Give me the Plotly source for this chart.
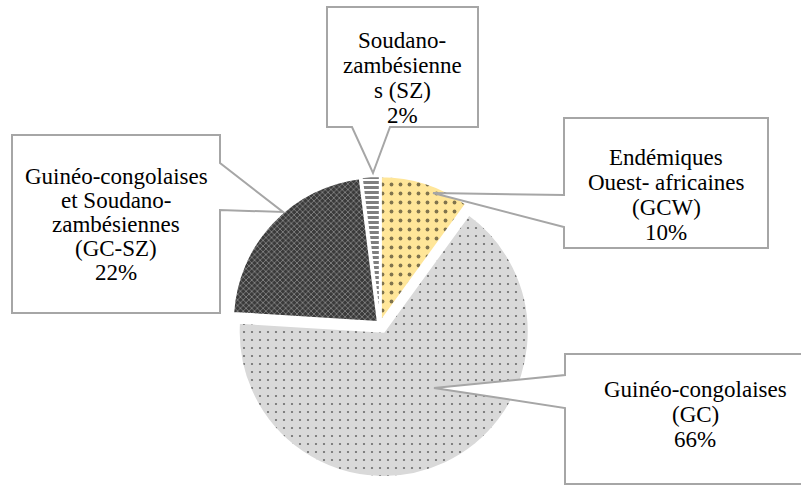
import plotly.graph_objects as go

# Phytogeographic spectrum of the flora
categories = ["GCW", "GC", "GC-SZ", "SZ"]
shares = [10, 66, 22, 2]
fill_colors = ["#FFE699", "#D9D9D9", "#3A3A3A", "#FFFFFF"]
pattern_shapes = [".", ".", "x", "-"]
pattern_fg = ["#000000", "#000000", "#FFFFFF", "#000000"]
pattern_sizes = [9, 8, 4, 5]
pattern_solidity = [0.14, 0.06, 0.3, 0.6]
pulls = [0.02, 0.06, 0.02, 0.02]

callout_lines = {
    "SZ": ["Soudano-", "zambésienne", "s (SZ)", "2%"],
    "GC-SZ": ["Guinéo-congolaises", "et Soudano-", "zambésiennes", "(GC-SZ)", "22%"],
    "GCW": ["Endémiques", "Ouest- africaines", "(GCW)", "10%"],
    "GC": ["Guinéo-congolaises", "(GC)", "66%"],
}

W, H = 801, 485
FONT = "Liberation Serif"
BORDER = "#A6A6A6"

# pie placement in pixels
cx, cy, r = 380, 324, 145
half = r * (1 + max(pulls))

fig = go.Figure()
fig.add_trace(go.Pie(
    labels=categories,
    values=shares,
    sort=False,
    direction="clockwise",
    rotation=0,
    pull=pulls,
    textinfo="none",
    hoverinfo="label+percent",
    showlegend=False,
    marker=dict(
        colors=fill_colors,
        line=dict(color="#FFFFFF", width=2),
        pattern=dict(
            shape=pattern_shapes,
            fgcolor=pattern_fg,
            size=pattern_sizes,
            solidity=pattern_solidity,
            fillmode="overlay",
        ),
    ),
    domain=dict(
        x=[(cx - half) / W, (cx + half) / W],
        y=[(H - cy - half) / H, (H - cy + half) / H],
    ),
))

# callout boxes (pixel coordinates on a hidden overlay axis)
callouts = [
    ("SZ", "M327,7 L478,7 L478,127 L390,127 L373,173 L352,127 L327,127 Z",
     402, [40, 65, 90, 115]),
    ("GC-SZ", "M12,135 L220,135 L220,163 L283,212 L220,210 L220,313 L12,313 Z",
     116, [176, 200, 224, 248, 272]),
    ("GCW", "M564,118 L768,118 L768,248 L564,248 L564,227 L433,193 L564,195 Z",
     666, [157, 182, 207, 232]),
    ("GC", "M565,354 L812,354 L812,484 L565,484 L565,408 L434,388 L565,375 Z",
     695, [389, 414, 439]),
]

for key, path, tx, ys in callouts:
    fig.add_shape(type="path", path=path, xref="x", yref="y",
                  fillcolor="#FFFFFF", line=dict(color=BORDER, width=2),
                  layer="above")
    for line, y in zip(callout_lines[key], ys):
        fig.add_annotation(x=tx, y=y, xref="x", yref="y", text=line,
                           showarrow=False, xanchor="center", yanchor="middle",
                           font=dict(family=FONT, size=23, color="#000000"))

fig.update_xaxes(range=[0, W], visible=False, fixedrange=True)
fig.update_yaxes(range=[H, 0], visible=False, fixedrange=True)

fig.update_layout(
    width=W, height=H,
    margin=dict(l=0, r=0, t=0, b=0),
    paper_bgcolor="#FFFFFF",
    plot_bgcolor="rgba(0,0,0,0)",
)

fig.write_html("out.html")
